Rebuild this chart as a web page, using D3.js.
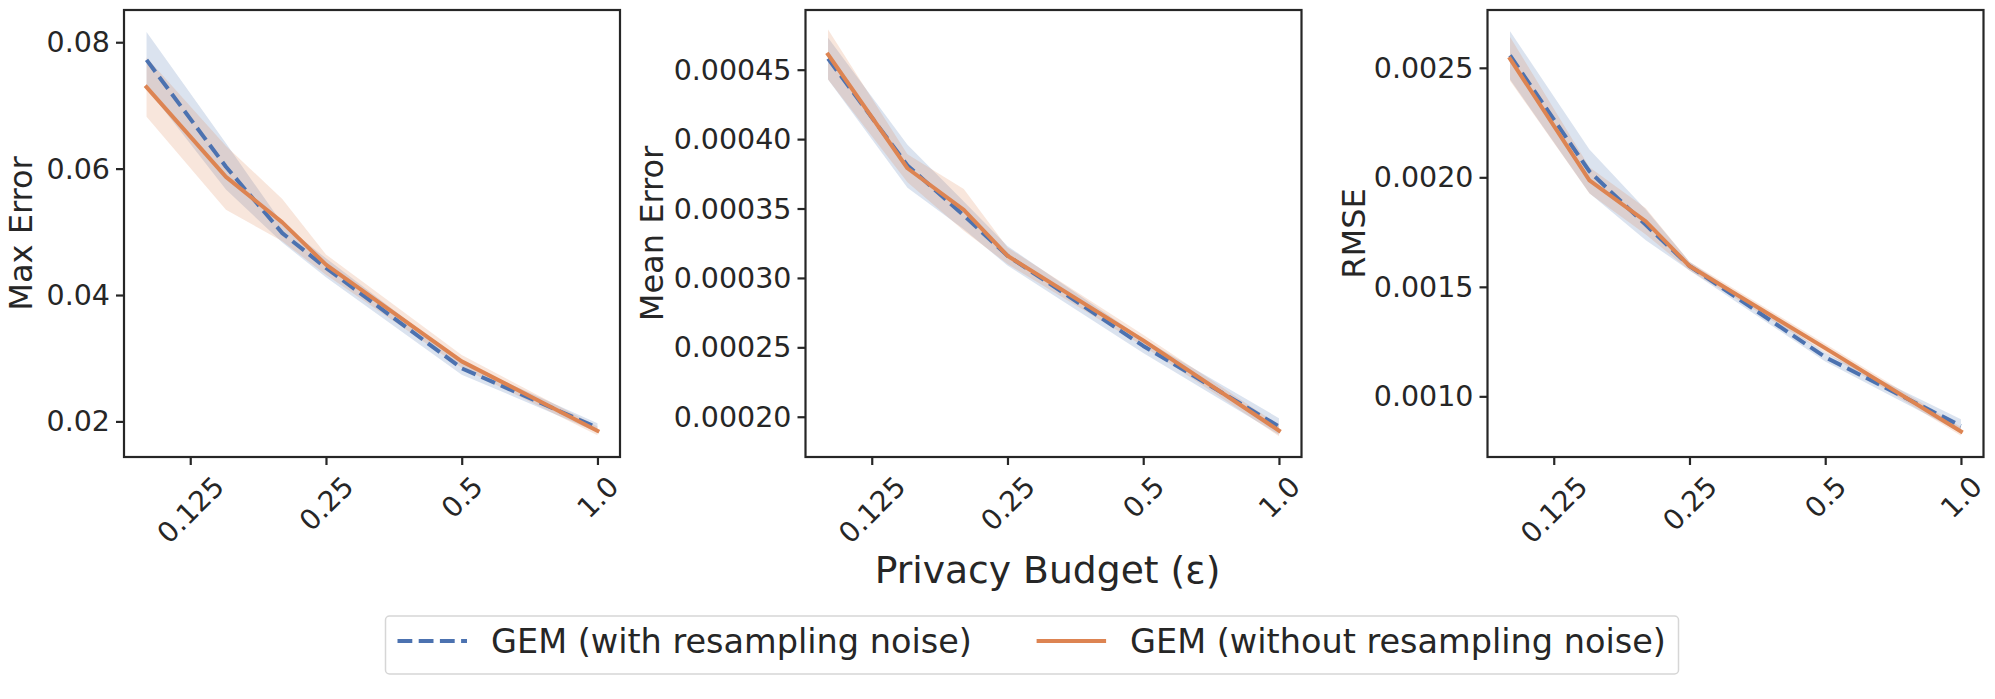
<!DOCTYPE html>
<meta charset="utf-8">
<script src="https://d3js.org/d3.v7.min.js"></script>
<style>
  body { margin: 0; background: #fff; }
  text { font-family: "DejaVu Sans", sans-serif; fill: #262626; }
</style>
<svg width="1995" height="699"></svg>
<script>

    // privacy budgets on the x axis
    const epsilons = [0.1, 0.15, 0.2, 0.25, 0.5, 1.0];
    const xTickValues = [0.125, 0.25, 0.5, 1.0];
    const xTickLabels = ["0.125", "0.25", "0.5", "1.0"];
    const seriesNames = ["GEM (with resampling noise)", "GEM (without resampling noise)"];

    // Max Error
    const maxErrWith     = [0.0772, 0.0603, 0.0498, 0.0443, 0.0284, 0.0190];
    const maxErrWithLo   = [0.0728, 0.0567, 0.0483, 0.0428, 0.0274, 0.0183];
    const maxErrWithHi   = [0.0816, 0.0640, 0.0513, 0.0458, 0.0294, 0.0197];
    const maxErrWithout  = [0.0729, 0.0587, 0.0515, 0.0448, 0.0295, 0.0185];
    const maxErrWithoutLo = [0.0682, 0.0535, 0.0485, 0.0432, 0.0285, 0.0178];
    const maxErrWithoutHi = [0.0776, 0.0636, 0.0552, 0.0464, 0.0305, 0.0192];
    const maxErrTicks = [0.02, 0.04, 0.06, 0.08];
    const maxErrTickLabels = ["0.02", "0.04", "0.06", "0.08"];

    // Mean Error
    const meanErrWith     = [0.000458, 0.000381, 0.000345, 0.000316, 0.000251, 0.000193];
    const meanErrWithLo   = [0.000443, 0.000365, 0.000335, 0.000309, 0.000246, 0.000187];
    const meanErrWithHi   = [0.000473, 0.000396, 0.000355, 0.000323, 0.000256, 0.000199];
    const meanErrWithout  = [0.000461, 0.000379, 0.000349, 0.000316, 0.000255, 0.000190];
    const meanErrWithoutLo = [0.000443, 0.000369, 0.000334, 0.000310, 0.000251, 0.000186];
    const meanErrWithoutHi = [0.000479, 0.000389, 0.000364, 0.000322, 0.000259, 0.000194];
    const meanErrTicks = [0.00020, 0.00025, 0.00030, 0.00035, 0.00040, 0.00045];
    const meanErrTickLabels = ["0.00020", "0.00025", "0.00030", "0.00035", "0.00040", "0.00045"];

    // RMSE
    const rmseWith     = [0.002557, 0.002027, 0.001783, 0.001595, 0.001179, 0.000865];
    const rmseWithLo   = [0.002447, 0.001927, 0.001713, 0.001575, 0.001159, 0.000835];
    const rmseWithHi   = [0.002667, 0.002127, 0.001853, 0.001615, 0.001199, 0.000895];
    const rmseWithout  = [0.002541, 0.001986, 0.001799, 0.001595, 0.001220, 0.000840];
    const rmseWithoutLo = [0.002441, 0.001926, 0.001739, 0.001575, 0.001200, 0.000820];
    const rmseWithoutHi = [0.002641, 0.002046, 0.001859, 0.001615, 0.001240, 0.000860];
    const rmseTicks = [0.0010, 0.0015, 0.0020, 0.0025];
    const rmseTickLabels = ["0.0010", "0.0015", "0.0020", "0.0025"];

    const panels = [
        {label: "Max Error", left: 124, labelX: -92, domain: [0.01437, 0.0851],
         ticks: maxErrTicks, tickLabels: maxErrTickLabels,
         series: [[maxErrWith, maxErrWithLo, maxErrWithHi], [maxErrWithout, maxErrWithoutLo, maxErrWithoutHi]]},
        {label: "Mean Error", left: 805.5, labelX: -143, domain: [0.000171, 0.000493],
         ticks: meanErrTicks, tickLabels: meanErrTickLabels,
         series: [[meanErrWith, meanErrWithLo, meanErrWithHi], [meanErrWithout, meanErrWithoutLo, meanErrWithoutHi]]},
        {label: "RMSE", left: 1487.5, labelX: -122.5, domain: [0.000723, 0.002764],
         ticks: rmseTicks, tickLabels: rmseTickLabels,
         series: [[rmseWith, rmseWithLo, rmseWithHi], [rmseWithout, rmseWithoutLo, rmseWithoutHi]]}
    ];

    const colors = ['#4c72b0', '#dd8452'];
    const dash = '14.8,6.4';
    const marginTop = 10, w = 496, h = 447;
    const ink = '#262626';

    const svg = d3.select('svg');

    const x = d3.scaleLog()
        .domain([0.1 / Math.pow(10, 0.05), Math.pow(10, 0.05)])
        .range([0, w]);

    panels.forEach(p => {
        const g = svg.append('g').attr('transform', `translate(${p.left},${marginTop})`);
        const y = d3.scaleLinear().domain(p.domain).range([h, 0]);

        const area = d3.area()
            .x((d, i) => x(epsilons[i]))
            .y0(d => y(d[0]))
            .y1(d => y(d[1]));
        const line = d3.line()
            .x((d, i) => x(epsilons[i]))
            .y(d => y(d));

        // bands first, lines on top (like matplotlib zorder)
        p.series.forEach((s, k) => {
            g.append('path')
                .datum(d3.zip(s[1], s[2]))
                .attr('d', area)
                .attr('fill', colors[k])
                .attr('fill-opacity', 0.2);
        });
        p.series.forEach((s, k) => {
            g.append('path')
                .datum(s[0])
                .attr('d', line)
                .attr('fill', 'none')
                .attr('stroke', colors[k])
                .attr('stroke-width', 4)
                .attr('stroke-linejoin', 'round')
                .attr('stroke-linecap', k === 0 ? 'butt' : 'square')
                .attr('stroke-dasharray', k === 0 ? dash : null);
        });

        // y axis
        const yAxis = g.append('g')
            .call(d3.axisLeft(y).tickValues(p.ticks).tickFormat((d, i) => p.tickLabels[i])
                .tickSize(8).tickPadding(6));
        yAxis.select('.domain').remove();
        yAxis.selectAll('line').attr('stroke', ink).attr('stroke-width', 2.2);
        yAxis.selectAll('text').attr('font-size', 28.5).attr('fill', ink)
            .attr('dy', null).attr('dominant-baseline', 'central')
            .style('font-family', '"DejaVu Sans", sans-serif');

        // x axis
        const xAxis = g.append('g')
            .attr('transform', `translate(0,${h})`)
            .call(d3.axisBottom(x).tickValues(xTickValues).tickFormat((d, i) => xTickLabels[i])
                .tickSize(8));
        xAxis.select('.domain').remove();
        xAxis.selectAll('line').attr('stroke', ink).attr('stroke-width', 2.2);
        xAxis.selectAll('text').each(function (d) {
            const t = d3.select(this)
                .attr('y', 0).attr('dy', null)
                .attr('font-size', 28).attr('fill', ink)
                .attr('text-anchor', 'middle')
                .style('font-family', '"DejaVu Sans", sans-serif');
            const b = this.getBBox();
            const ext = (b.width + b.height) / Math.SQRT2;
            const cy = 13 + ext / 2;
            t.attr('transform', `translate(0,${cy}) rotate(-45) translate(${-(b.x + b.width / 2)},${-(b.y + b.height / 2)})`);
        });

        // frame
        g.append('rect')
            .attr('width', w).attr('height', h)
            .attr('fill', 'none')
            .attr('stroke', ink)
            .attr('stroke-width', 2.2);

        // y label
        g.append('text')
            .attr('transform', `translate(${p.labelX},${h / 2}) rotate(-90)`)
            .attr('text-anchor', 'middle')
            .attr('font-size', 32)
            .text(p.label);
    });

    // shared x label
    svg.append('text')
        .attr('x', 1047.5).attr('y', 583)
        .attr('text-anchor', 'middle')
        .attr('font-size', 37.7)
        .text('Privacy Budget (\u03b5)');

    // legend
    const legend = svg.append('g');
    legend.append('rect')
        .attr('x', 385.5).attr('y', 616)
        .attr('width', 1293).attr('height', 58)
        .attr('rx', 4)
        .attr('fill', '#fff')
        .attr('stroke', '#d6d6d6')
        .attr('stroke-width', 1.5);
    const legendX = [397.5, 1036.6];
    seriesNames.forEach((name, k) => {
        legend.append('line')
            .attr('x1', legendX[k]).attr('x2', legendX[k] + 69.5)
            .attr('y1', 641).attr('y2', 641)
            .attr('stroke', colors[k])
            .attr('stroke-width', 4)
            .attr('stroke-dasharray', k === 0 ? dash : null);
        legend.append('text')
            .attr('x', legendX[k] + 93.5).attr('y', 653)
            .attr('font-size', 33.5)
            .text(name);
    });

</script>
